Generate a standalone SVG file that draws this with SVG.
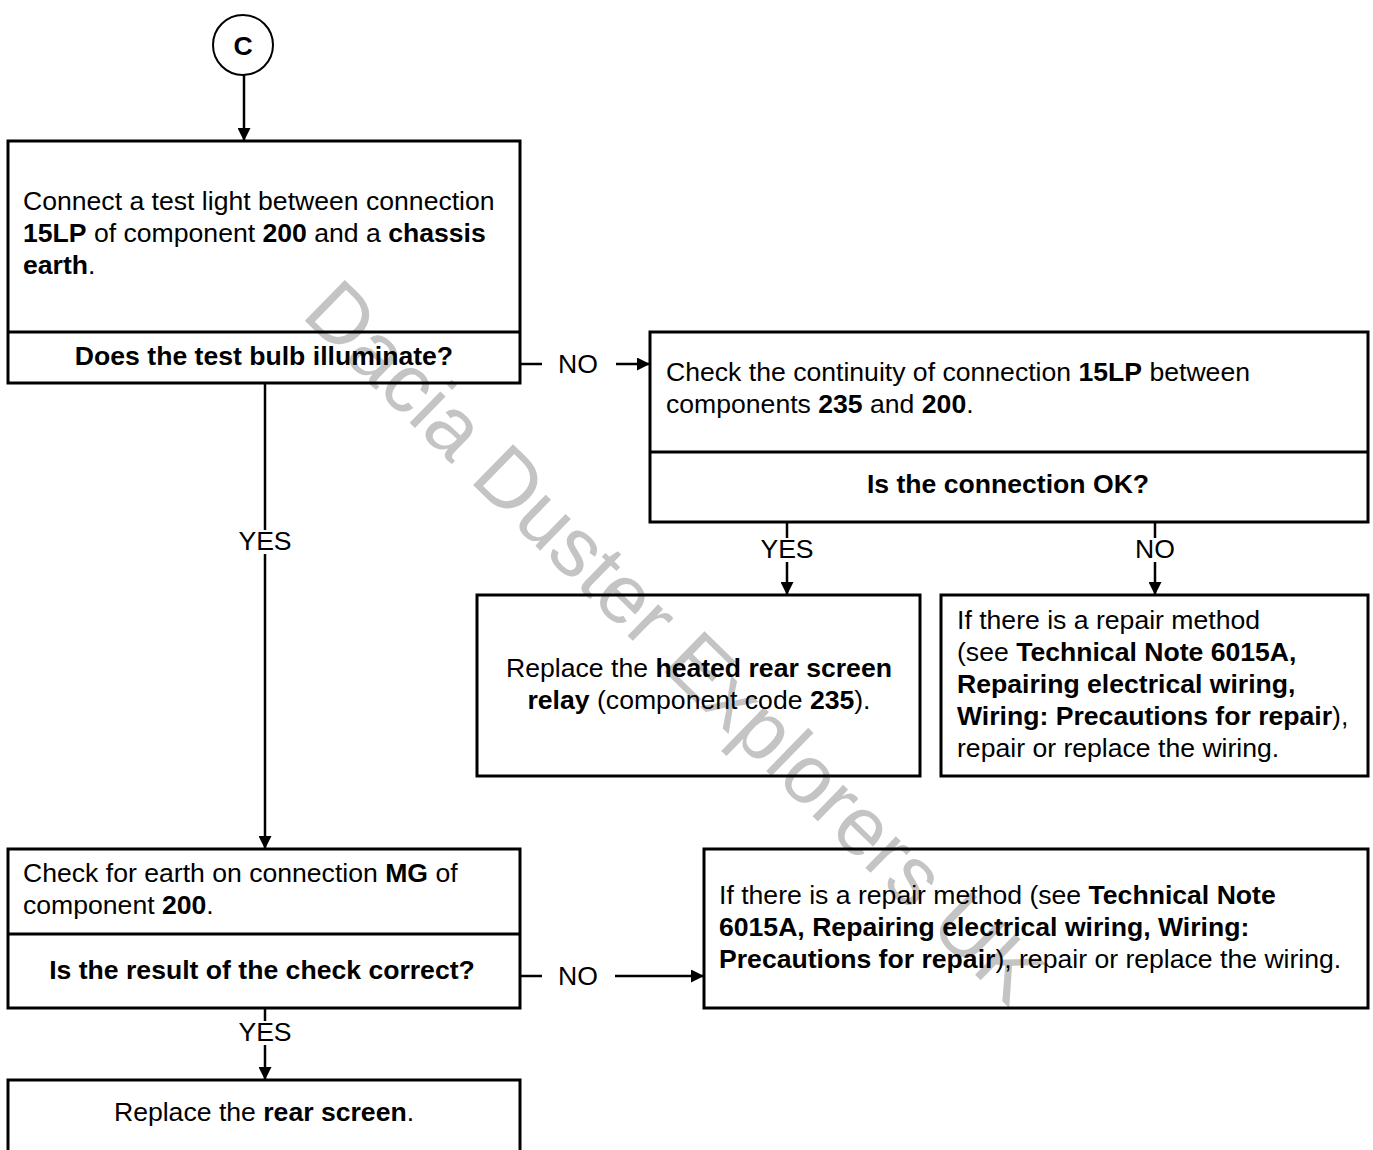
<svg xmlns="http://www.w3.org/2000/svg" width="1373" height="1150" viewBox="0 0 1373 1150">
<style>
.t{font-family:"Liberation Sans",Arial,sans-serif;font-size:26.6px;fill:#000}
.b{font-weight:bold}
.box{fill:none;stroke:#000;stroke-width:3}
.ln{stroke:#000;stroke-width:2.5;fill:none}
.wm{font-family:"Liberation Sans",Arial,sans-serif;font-size:83px;fill:#c4c4c4}
</style>
<defs>
<marker id="ah" viewBox="0 0 10 10" refX="10" refY="5" markerWidth="13" markerHeight="13" markerUnits="userSpaceOnUse" orient="auto">
<path d="M0,0 L10,5 L0,10 z" fill="#000"/>
</marker>
</defs>
<rect width="1373" height="1150" fill="#fff"/>
<text class="wm" transform="translate(300,316) rotate(44.3)">Dacia Duster Explorers UK</text>

<g id="nodeC">
<circle cx="243" cy="45" r="30" fill="none" stroke="#000" stroke-width="2"/>
<text class="t b" x="243" y="55" text-anchor="middle">C</text>
</g>

<g id="box1">
<rect class="box" x="8" y="141" width="512" height="242"/>
<line class="box" x1="8" y1="332" x2="520" y2="332"/>
<text class="t" x="23" y="210">Connect a test light between connection</text>
<text class="t" x="23" y="242"><tspan class="b">15LP</tspan> of component <tspan class="b">200</tspan> and a <tspan class="b">chassis</tspan></text>
<text class="t" x="23" y="274"><tspan class="b">earth</tspan>.</text>
<text class="t b" x="264" y="365" text-anchor="middle">Does the test bulb illuminate?</text>
</g>

<g id="box2">
<rect class="box" x="650" y="332" width="718" height="190"/>
<line class="box" x1="650" y1="452" x2="1368" y2="452"/>
<text class="t" x="666" y="381">Check the continuity of connection <tspan class="b">15LP</tspan> between</text>
<text class="t" x="666" y="413">components <tspan class="b">235</tspan> and <tspan class="b">200</tspan>.</text>
<text class="t b" x="1008" y="493" text-anchor="middle">Is the connection OK?</text>
</g>

<g id="box3">
<rect class="box" x="477" y="595" width="443" height="181"/>
<text class="t" x="699" y="677" text-anchor="middle">Replace the <tspan class="b">heated rear screen</tspan></text>
<text class="t" x="699" y="709" text-anchor="middle"><tspan class="b">relay</tspan> (component code <tspan class="b">235</tspan>).</text>
</g>

<g id="box4">
<rect class="box" x="941" y="595" width="427" height="181"/>
<text class="t" x="957" y="629">If there is a repair method</text>
<text class="t" x="957" y="661">(see <tspan class="b">Technical Note 6015A,</tspan></text>
<text class="t b" x="957" y="693">Repairing electrical wiring,</text>
<text class="t" x="957" y="725"><tspan class="b">Wiring: Precautions for repair</tspan>),</text>
<text class="t" x="957" y="757">repair or replace the wiring.</text>
</g>

<g id="box5">
<rect class="box" x="8" y="849" width="512" height="159"/>
<line class="box" x1="8" y1="934" x2="520" y2="934"/>
<text class="t" x="23" y="882">Check for earth on connection <tspan class="b">MG</tspan> of</text>
<text class="t" x="23" y="914">component <tspan class="b">200</tspan>.</text>
<text class="t b" x="262" y="979" text-anchor="middle">Is the result of the check correct?</text>
</g>

<g id="box6">
<rect class="box" x="704" y="849" width="664" height="159"/>
<text class="t" x="719" y="904">If there is a repair method (see <tspan class="b">Technical Note</tspan></text>
<text class="t b" x="719" y="936">6015A, Repairing electrical wiring, Wiring:</text>
<text class="t" x="719" y="968"><tspan class="b">Precautions for repair</tspan>), repair or replace the wiring.</text>
</g>

<g id="box7">
<rect class="box" x="8" y="1080" width="512" height="90"/>
<text class="t" x="264" y="1121" text-anchor="middle">Replace the <tspan class="b">rear screen</tspan>.</text>
</g>

<g id="connectors">
<line class="ln" x1="244" y1="75" x2="244" y2="141" marker-end="url(#ah)"/>
<line class="ln" x1="265" y1="384" x2="265" y2="530"/>
<text class="t" x="265" y="550" text-anchor="middle">YES</text>
<line class="ln" x1="265" y1="554" x2="265" y2="849" marker-end="url(#ah)"/>
<line class="ln" x1="520" y1="364" x2="542" y2="364"/>
<text class="t" x="578" y="373" text-anchor="middle">NO</text>
<line class="ln" x1="616" y1="364" x2="650" y2="364" marker-end="url(#ah)"/>
<line class="ln" x1="787" y1="523" x2="787" y2="538"/>
<text class="t" x="787" y="558" text-anchor="middle">YES</text>
<line class="ln" x1="787" y1="562" x2="787" y2="595" marker-end="url(#ah)"/>
<line class="ln" x1="1155" y1="523" x2="1155" y2="538"/>
<text class="t" x="1155" y="558" text-anchor="middle">NO</text>
<line class="ln" x1="1155" y1="562" x2="1155" y2="595" marker-end="url(#ah)"/>
<line class="ln" x1="520" y1="976" x2="542" y2="976"/>
<text class="t" x="578" y="985" text-anchor="middle">NO</text>
<line class="ln" x1="615" y1="976" x2="704" y2="976" marker-end="url(#ah)"/>
<line class="ln" x1="265" y1="1008" x2="265" y2="1021"/>
<text class="t" x="265" y="1041" text-anchor="middle">YES</text>
<line class="ln" x1="265" y1="1045" x2="265" y2="1080" marker-end="url(#ah)"/>
</g>
</svg>
